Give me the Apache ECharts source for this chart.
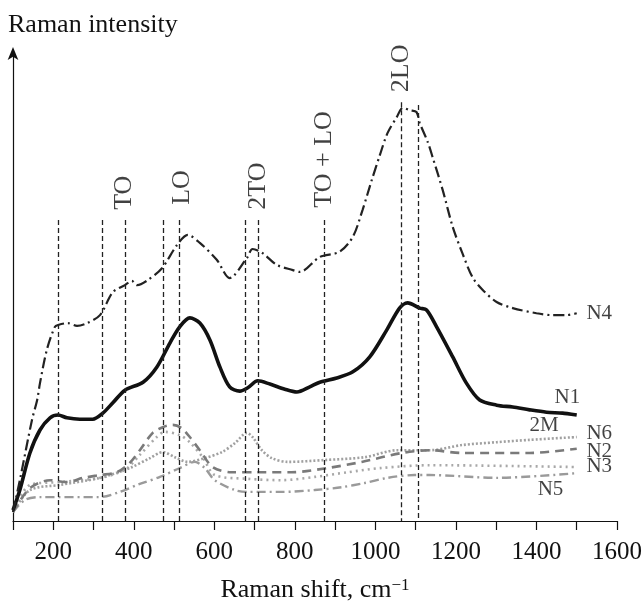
<!DOCTYPE html>
<html>
  <head>
    <title></title>
    <meta charset="UTF-8" />
    <script src="https://cdn.jsdelivr.net/npm/echarts@6/dist/echarts.min.js"></script>
    <style>
      body { margin: 0; background: #fff; }
    </style>
  </head>
  <body>
    <div id="main"></div>
    <script>
      const width = 644;
      const height = 605;
      const main = document.getElementById('main');
      main.style.width = `${width}px`;
      main.style.height = `${height}px`;

      const font = 'Liberation Serif';

      // x axis ticks (Raman shift, cm-1)
      const xMin = 100;
      const xMax = 1600;
      const xTickStep = 100;

      // spectra: [shift, intensity (a.u.)]
      const n4 = [
        [100, 1.9], [117, 8.7], [147, 21.5], [160, 25.8], [167, 29.4], [184, 36.5], [204, 41.4],
        [212, 41.8], [236, 42.2], [259, 41.6], [284, 42.2], [316, 43.9], [348, 48.8], [378, 50.3],
        [395, 51.2], [408, 50.3], [432, 51.2], [470, 53.9], [507, 58.8], [534, 61.0], [564, 59.3],
        [606, 55.7], [638, 51.8], [681, 56.1], [695, 58.0], [720, 57.1], [755, 54.6], [795, 53.5],
        [812, 53.1], [862, 56.3], [911, 57.4], [944, 60.6], [968, 66.3], [991, 72.7], [1011, 78.0],
        [1030, 82.7], [1053, 86.1], [1068, 88.1], [1085, 87.6], [1102, 87.2], [1110, 84.9],
        [1130, 80.8], [1142, 77.6], [1167, 70.6], [1192, 62.7], [1216, 57.1], [1241, 52.0],
        [1266, 49.3], [1301, 46.7], [1341, 45.4], [1400, 44.3], [1440, 43.9], [1475, 43.9], [1500, 44.3],
      ];
      const n1 = [
        [100, 2.3], [117, 6.6], [142, 14.5], [167, 19.4], [192, 22.0], [212, 22.6], [234, 22.0],
        [266, 21.7], [298, 21.7], [323, 23.0], [348, 25.2], [378, 27.9], [423, 29.6], [457, 32.8],
        [490, 38.0], [514, 41.4], [539, 43.3], [564, 42.2], [589, 38.6], [614, 32.8], [638, 28.6],
        [663, 27.7], [683, 28.4], [708, 29.9], [738, 29.2], [775, 28.1], [805, 27.5], [837, 28.6],
        [862, 29.6], [904, 30.5], [944, 31.8], [986, 35.0], [1028, 40.7], [1060, 45.4], [1080, 46.5],
        [1110, 45.4], [1127, 45.0], [1152, 41.4], [1192, 35.0], [1226, 29.4], [1259, 25.8],
        [1301, 24.7], [1341, 24.3], [1383, 23.7], [1425, 23.2], [1465, 23.0], [1500, 22.6],
      ];
      const n2 = [
        [100, 1.9], [142, 7.0], [192, 8.7], [234, 8.3], [274, 9.2], [316, 9.8], [358, 10.4],
        [390, 12.4], [415, 15.1], [447, 18.8], [472, 20.0], [497, 20.5], [519, 19.8], [539, 17.9],
        [564, 15.1], [596, 11.5], [643, 10.4], [708, 10.4], [792, 10.4], [882, 11.3], [966, 12.6],
        [1065, 14.5], [1135, 15.1], [1216, 14.5], [1383, 14.5], [1500, 15.4],
      ];
      const n3 = [
        [100, 1.9], [142, 7.7], [217, 8.3], [316, 9.2], [378, 10.9], [415, 14.1], [457, 17.9],
        [477, 19.0], [514, 18.3], [539, 16.8], [571, 13.6], [601, 9.8], [683, 9.0], [767, 8.7],
        [849, 9.4], [931, 10.4], [1015, 11.3], [1135, 11.9], [1500, 11.5],
      ];
      const n6 = [
        [100, 1.9], [142, 6.6], [217, 7.7], [316, 9.2], [390, 11.3], [440, 13.4], [472, 14.7],
        [502, 13.6], [534, 12.6], [576, 13.4], [619, 14.7], [651, 16.6], [681, 18.8], [695, 17.9],
        [718, 15.1], [743, 13.4], [782, 12.6], [874, 13.0], [973, 13.6], [1055, 15.1], [1135, 15.1],
        [1216, 16.2], [1301, 16.8], [1383, 17.3], [1500, 17.9],
      ];
      const n5 = [
        [100, 1.9], [130, 4.5], [167, 5.1], [316, 5.1], [365, 6.2], [415, 7.9], [465, 9.4],
        [514, 11.3], [552, 12.6], [576, 11.3], [601, 8.7], [651, 6.6], [683, 6.2], [767, 6.2],
        [849, 6.6], [916, 7.2], [973, 8.1], [1030, 9.2], [1097, 9.8], [1135, 9.8], [1301, 9.2],
        [1500, 10.2],
      ];

      // reference band positions [shift, top of dashed line]
      const bands = [
        [212, 64.2], [321, 64.2], [378, 64.2], [472, 64.2], [514, 64.2],
        [678, 64.2], [708, 64.2], [872, 64.2], [1065, 89.3], [1107, 88.7],
      ];
      // band names [shift, middle of text, text]
      const bandNames = [
        [377, 70.0, 'TO'], [519, 71.1, 'LO'], [710, 71.4, '2TO'],
        [874, 77.1, 'TO + LO'], [1065, 96.5, '2LO'],
      ];
      // curve names [shift, intensity, text]
      const curveNames = [
        [1524, 44.3, 'N4'], [1445, 26.4, 'N1'], [1383, 20.3, '2M'], [1524, 18.6, 'N6'],
        [1524, 14.9, 'N2'], [1524, 11.7, 'N3'], [1403, 6.8, 'N5'],
      ];

      const line = (name, data, color, w, type) => ({
        name,
        type: 'line',
        data,
        symbol: 'none',
        smooth: 0.3,
        lineStyle: { color, width: w, type },
        z: 3,
      });

      const myChart = echarts.init(main);
      const option = {
        animation: false,
        backgroundColor: '#fff',
        grid: { left: 13, right: 27, top: 52, bottom: 84, outerBoundsMode: 'none' },
        xAxis: {
          type: 'value',
          min: xMin,
          max: xMax,
          interval: xTickStep,
          name: 'Raman shift, cm{sup|−1}',
          nameLocation: 'middle',
          nameGap: 56,
          nameTextStyle: {
            fontFamily: font,
            fontSize: 26,
            color: '#111',
            rich: { sup: { fontFamily: font, fontSize: 17, verticalAlign: 'top', color: '#111' } },
          },
          axisLine: { lineStyle: { color: '#111', width: 1.2 } },
          axisTick: { inside: false, length: 9, lineStyle: { color: '#111', width: 1.2 } },
          axisLabel: {
            margin: 19,
            fontFamily: font,
            fontSize: 25,
            color: '#111',
            formatter: (v) => (v % 200 === 0 ? String(v) : ''),
          },
          splitLine: { show: false },
        },
        yAxis: {
          type: 'value',
          min: 0,
          max: 100,
          name: 'Raman intensity',
          nameLocation: 'end',
          nameGap: 14,
          nameTextStyle: {
            fontFamily: font,
            fontSize: 26,
            color: '#111',
            align: 'left',
            padding: [0, 0, 0, -5],
          },
          axisLine: {
            show: true,
            symbol: ['none', 'arrow'],
            symbolSize: [8, 13],
            symbolOffset: [0, 5],
            lineStyle: { color: '#111', width: 1.2 },
          },
          axisTick: { show: false },
          axisLabel: { show: false },
          splitLine: { show: false },
        },
        series: [
          line('N5', n5, '#9a9a9a', 2.4, [9, 4, 2, 4]),
          line('N3', n3, '#a8a8a8', 2.6, [2, 4]),
          line('N6', n6, '#a0a0a0', 2.6, [2, 2]),
          line('N2', n2, '#7a7a7a', 2.6, [9, 6]),
          line('N1', n1, '#111', 3.6, 'solid'),
          {
            ...line('N4', n4, '#222', 2.2, [11, 4, 2, 4]),
            markLine: {
              silent: true,
              symbol: 'none',
              label: { show: false },
              lineStyle: { color: '#222', width: 1.3, type: [5, 3] },
              data: bands.map(([x, top]) => [{ coord: [x, top] }, { coord: [x, 0] }]),
            },
          },
          {
            type: 'scatter',
            data: bandNames,
            symbolSize: 0,
            silent: true,
            label: {
              show: true,
              position: 'inside',
              rotate: 90,
              fontFamily: font,
              fontSize: 26,
              color: '#111',
              formatter: (p) => p.data[2],
            },
          },
          {
            type: 'scatter',
            data: curveNames,
            symbolSize: 0,
            silent: true,
            label: {
              show: true,
              position: 'inside',
              align: 'left',
              verticalAlign: 'middle',
              fontFamily: font,
              fontSize: 21,
              color: '#111',
              formatter: (p) => p.data[2],
            },
          },
        ],
      };
      myChart.setOption(option);
    </script>
  </body>
</html>
